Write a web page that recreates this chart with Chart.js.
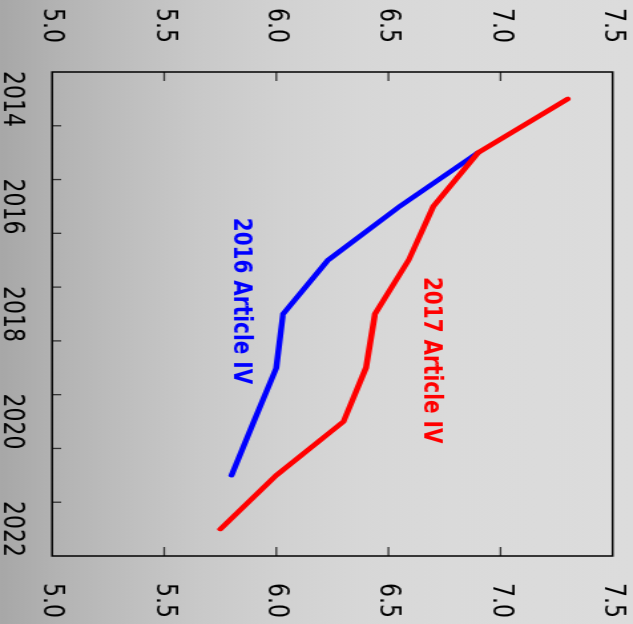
<!DOCTYPE html>
<html>
<head>
<meta charset="utf-8">
<script src="https://cdn.jsdelivr.net/npm/chart.js@4/dist/chart.umd.min.js"></script>
<style>
  html, body { margin: 0; padding: 0; width: 633px; height: 624px; overflow: hidden; background: #d9d9d9; }
  /* chart is laid out upright, then turned a quarter turn clockwise */
  #wrap {
    position: absolute; left: 0; top: 0;
    width: 624px; height: 476px;
    transform-origin: 0 0;
    transform: translate(633px, 0) rotate(90deg) scale(1, 1.3298);
  }
  canvas { display: block; }
</style>
</head>
<body>
<div id="wrap"><canvas id="c" width="624" height="476"></canvas></div>
<script>
// Years on the horizontal axis
const years = ['2014', '2015', '2016', '2017', '2018', '2019', '2020', '2021', '2022'];

// Projections from the two Article IV reports
const article2017 = [7.30, 6.90, 6.70, 6.59, 6.44, 6.40, 6.30, 6.00, 5.75];
const article2016 = [null, 6.90, 6.55, 6.23, 6.03, 6.00, 5.90, 5.80, null];

// Value axis ticks (both sides)
const valueTicks = [5.0, 5.5, 6.0, 6.5, 7.0, 7.5];

// Series captions: [year position, value]
const captions = [
  { text: '2016 Article IV', color: '#0000ff', year: 2016.21, value: 5.84 },
  { text: '2017 Article IV', color: '#ff0000', year: 2017.31, value: 6.69 }
];

const tickFont = { family: 'DejaVu Sans', size: 22 };

const decor = {
  id: 'decor',
  beforeDraw(chart) {
    const { ctx, width, height } = chart;
    const g = ctx.createLinearGradient(0, height, 0, 0);
    g.addColorStop(0.00, '#a7a7a7');
    g.addColorStop(0.10, '#b4b4b4');
    g.addColorStop(0.21, '#bfbfbf');
    g.addColorStop(0.32, '#c9c9c9');
    g.addColorStop(0.44, '#d1d1d1');
    g.addColorStop(0.57, '#d7d7d7');
    g.addColorStop(0.71, '#dadada');
    g.addColorStop(1.00, '#dcdcdc');
    ctx.save();
    ctx.fillStyle = g;
    ctx.fillRect(0, 0, width, height);
    ctx.restore();
  },
  afterDraw(chart) {
    const { ctx, chartArea: a, scales } = chart;
    const line = (x1, y1, x2, y2) => { ctx.beginPath(); ctx.moveTo(x1, y1); ctx.lineTo(x2, y2); ctx.stroke(); };
    ctx.save();
    // inward tick marks
    ctx.strokeStyle = '#333';
    ctx.lineWidth = 1.3;
    const vmin = valueTicks[0], vmax = valueTicks[valueTicks.length - 1];
    for (const v of valueTicks) {
      if (v === vmin || v === vmax) continue;
      const y = scales.y.getPixelForValue(v);
      line(a.left, y, a.left + 9, y);
      line(a.right, y, a.right - 9, y);
    }
    for (let i = 0; i < years.length - 1; i++) {
      const x = scales.x.getPixelForValue(i + 0.5);
      line(x, a.bottom, x, a.bottom - 6.8);
    }
    // plot frame
    ctx.strokeStyle = '#000';
    ctx.lineWidth = 1.5;
    ctx.strokeRect(a.left, a.top, a.width, a.height);
    // series captions
    ctx.font = 'bold 20px "DejaVu Sans"';
    ctx.textAlign = 'left';
    ctx.textBaseline = 'middle';
    for (const c of captions) {
      ctx.fillStyle = c.color;
      const x = scales.x.getPixelForValue(c.year - Number(years[0]));
      const y = scales.y.getPixelForValue(c.value);
      ctx.fillText(c.text, x, y);
    }
    ctx.restore();
  }
};

// fixed axis sizes, no extra room reserved for overhanging labels
const fixSize = (prop, size) => scale => {
  scale[prop] = size;
  scale.paddingTop = 0;
  scale.paddingBottom = 0;
  scale.paddingLeft = 0;
  scale.paddingRight = 0;
};

const valueAxis = (position, width, pad) => ({
  type: 'linear',
  position,
  min: valueTicks[0],
  max: valueTicks[valueTicks.length - 1],
  grid: { display: false, drawTicks: false },
  border: { display: false },
  afterBuildTicks(scale) { scale.ticks = valueTicks.map(v => ({ value: v })); },
  afterFit: fixSize('width', width),
  ticks: {
    font: tickFont,
    color: '#000',
    padding: pad,
    callback: v => Number(v).toFixed(1)
  }
});

new Chart(document.getElementById('c'), {
  type: 'line',
  data: {
    labels: years,
    datasets: [
      {
        label: '2017 Article IV',
        data: article2017,
        borderColor: '#ff0000',
        borderWidth: 4.5,
        borderCapStyle: 'round',
        pointRadius: 0,
        tension: 0,
        yAxisID: 'y'
      },
      {
        label: '2016 Article IV',
        data: article2016,
        borderColor: '#0000ff',
        borderWidth: 4.5,
        borderCapStyle: 'round',
        pointRadius: 0,
        tension: 0,
        yAxisID: 'y'
      }
    ]
  },
  options: {
    responsive: false,
    animation: false,
    devicePixelRatio: 1,
    layout: { padding: { top: 15.3, left: 0, right: 0, bottom: 0 } },
    plugins: { legend: { display: false }, tooltip: { enabled: false } },
    scales: {
      x: {
        type: 'category',
        offset: true,
        grid: { display: false, drawTicks: false, offset: true },
        border: { display: false },
        afterFit: fixSize('height', 39.2),
        ticks: {
          font: tickFont,
          color: '#000',
          autoSkip: false,
          maxRotation: 0,
          minRotation: 0,
          padding: 17,
          callback: (v, i) => (i % 2 === 0 ? years[i] : '')
        }
      },
      y: valueAxis('left', 72, 29),
      y2: valueAxis('right', 68, 27)
    }
  },
  plugins: [decor]
});
</script>
</body>
</html>
